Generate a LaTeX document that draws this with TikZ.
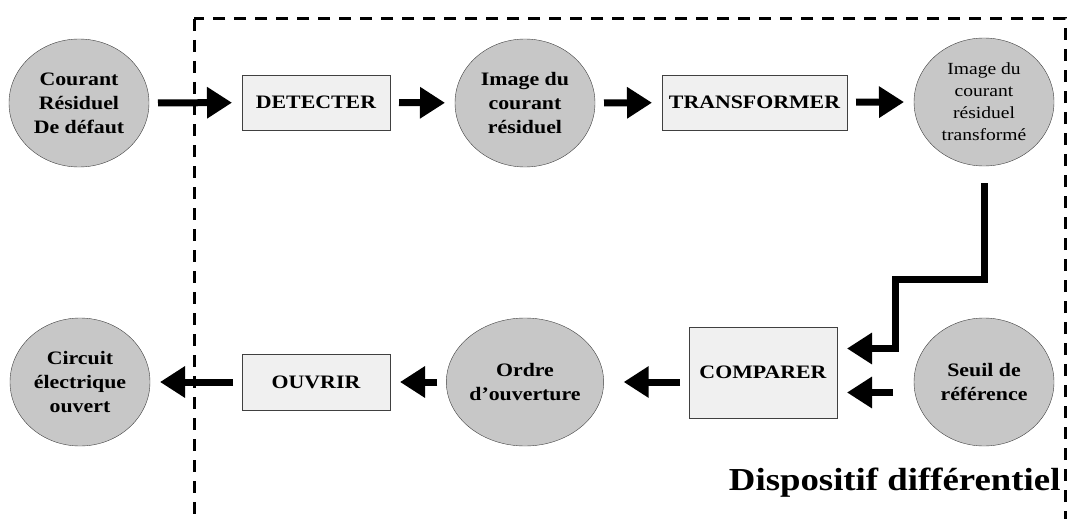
\documentclass[tikz,border=0pt]{standalone}
\usepackage{fontspec}
\setmainfont{Liberation Serif}[FakeStretch=1.15]
\usetikzlibrary{shapes.geometric,arrows.meta}

\tikzset{
  etat/.style={ellipse,draw=black!75,fill=black!22,minimum width=140pt,minimum height=128pt,
    inner sep=0pt,outer sep=0pt,align=center,font=\fontsize{19}{24}\selectfont\bfseries},
  bloc/.style={rectangle,draw=black!75,fill=black!6,minimum width=148pt,minimum height=55pt,
    inner sep=0pt,outer sep=0pt,font=\fontsize{19}{24}\selectfont\bfseries},
  fleche/.style={line width=7pt,-{Triangle[length=25pt,width=30pt]},shorten <=9pt,shorten >=10pt},
  cadre/.style={line width=3pt,dash pattern=on 12pt off 9pt}
}

\begin{document}
\begin{tikzpicture}[x=1pt,y=-1pt]
\useasboundingbox (0,0) rectangle (1071,519);
%%Cadre
\draw[cadre] (194,19) rectangle (1065,560);

%%Ligne du haut
\node[etat] (courant) at (79,103) {Courant\\Résiduel\\De défaut};
\node[bloc] (detect) at (316,102.5) {DETECTER};
\node[etat] (image) at (525,103) {Image du\\courant\\résiduel};
\node[bloc,minimum width=185pt] (transf) at (754.5,102.5) {TRANSFORMER};
\node[etat,font=\fontsize{17}{22}\selectfont] (trans) at (984,102) {Image du\\courant\\résiduel\\transformé};

%%Ligne du bas
\node[etat] (circuit) at (80,382) {Circuit\\électrique\\ouvert};
\node[bloc,minimum height=56pt] (ouvrir) at (316,382) {OUVRIR};
\node[etat] (ordre) at (525,382) {Ordre\\d’ouverture};
\node[bloc,minimum height=91pt] (comp) at (763,372.5) {COMPARER};
\node[etat] (seuil) at (984,382) {Seuil de\\référence};

%%Fleches
\draw[fleche] (courant) -- (detect);
\draw[fleche] (detect) -- (image);
\draw[fleche] (image) -- (transf);
\draw[fleche] (transf) -- (trans.west);

\coordinate (coude) at (895,279);
\coordinate (entree1) at ([yshift=24pt]comp.east);
\coordinate (entree2) at ([yshift=-20pt]comp.east);
\draw[fleche,shorten <=17pt] (trans.south) |- (coude) |- (entree1);
\draw[fleche,shorten <=21pt] (seuil.west |- entree2) -- (entree2);

\draw[fleche,shorten >=20pt] (comp.west |- ordre.east) -- (ordre.east);
\draw[fleche] (ordre) -- (ouvrir);
\draw[fleche] (ouvrir) -- (circuit);

%%Label
\node[anchor=base east,font=\fontsize{32}{38}\selectfont\bfseries] (titre) at (1064,490) {Dispositif différentiel};
\end{tikzpicture}
\end{document}
